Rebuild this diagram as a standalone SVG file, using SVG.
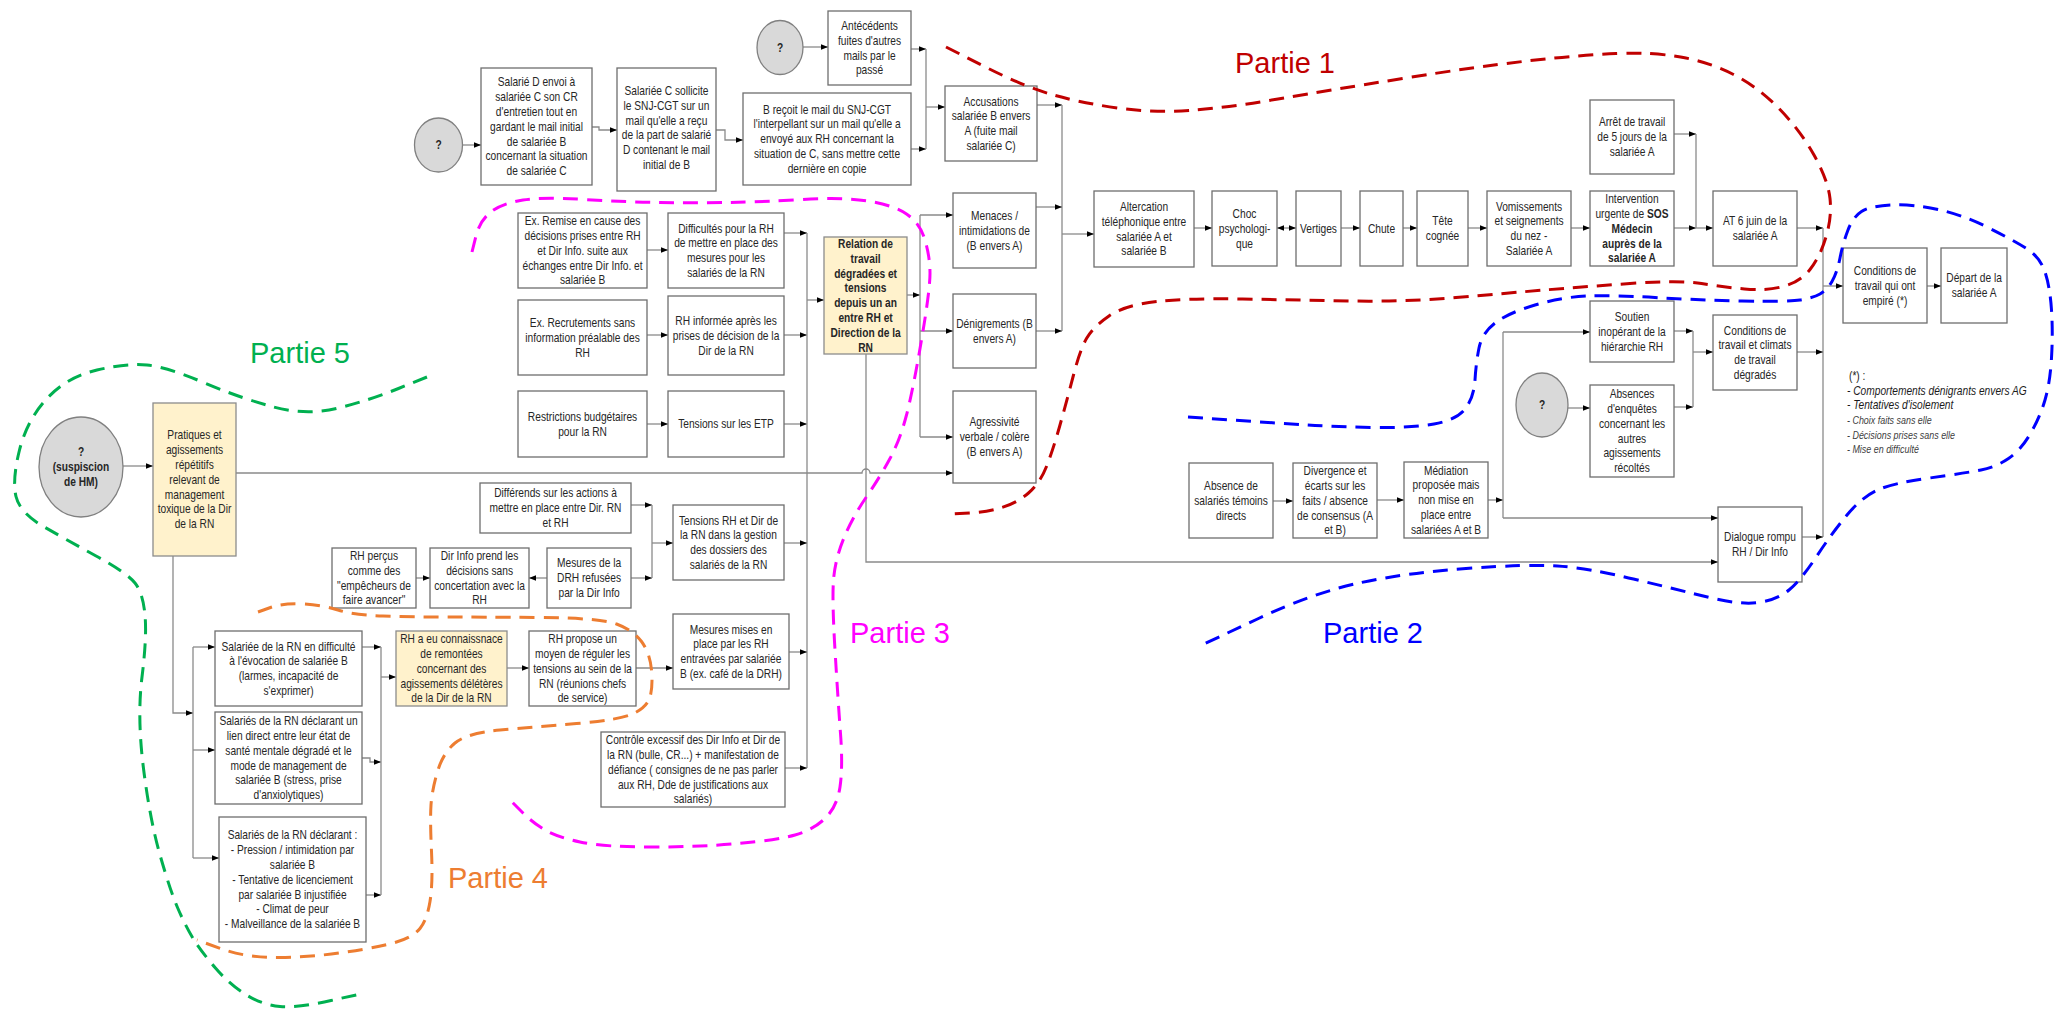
<svg xmlns="http://www.w3.org/2000/svg" width="2056" height="1017" viewBox="0 0 2056 1017">
<style>
.box{fill:#fff;stroke:#6e6e6e;stroke-width:1.3}
.hl{fill:#fff2cc;stroke:#8c8c8c;stroke-width:1.3}
.circ{fill:#d9d9d9;stroke:#808080;stroke-width:1.3}
.t{font-family:"Liberation Sans",Arial,sans-serif;font-size:12px;fill:#262626;text-anchor:middle;transform-box:fill-box;transform-origin:center;transform:scaleX(0.85)}
.b{font-weight:bold}
.c{fill:none;stroke:#8a8a8a;stroke-width:1.3}
.a{marker-end:url(#ah)}
.zone{fill:none;stroke-width:3;stroke-dasharray:15 9}
.lbl{font-family:"Liberation Sans",Arial,sans-serif;font-size:29px}
.lg{font-family:"Liberation Sans",Arial,sans-serif;font-size:12px;fill:#1a1a1a;transform-box:fill-box;transform-origin:left center;transform:scaleX(0.85)}
.lgs{font-size:10.5px;fill:#404040}
</style>
<defs>
<marker id="ah" viewBox="0 0 8 8" refX="8" refY="4" markerWidth="7" markerHeight="7" markerUnits="userSpaceOnUse" orient="auto-start-reverse"><path d="M0,0.8 L8,4 L0,7.2 z" fill="#000"/></marker>
</defs>
<rect width="2056" height="1017" fill="#fff"/>

<g id="connectors">
<path class="c a" d="M462,145 H481"/>
<path class="c a" d="M592,127 H599 V130 H617"/>
<path class="c a" d="M716,130 H725 V140 H743"/>
<path class="c a" d="M803,47 H828"/>
<path class="c a" d="M911,49 H926"/>
<path class="c a" d="M911,149 H926"/>
<path class="c" d="M926,49 V149"/>
<path class="c a" d="M926,107 H945"/>
<path class="c a" d="M1037,105 H1062"/>
<path class="c" d="M1062,105 V331"/>
<path class="c a" d="M1036,207 H1062"/>
<path class="c a" d="M1036,331 H1062"/>
<path class="c a" d="M1062,234 H1094"/>
<path class="c a" d="M1194,228 H1212"/>
<path class="c a" d="M1277,228 H1296" marker-start="url(#ah)"/>
<path class="c a" d="M1341,228 H1360"/>
<path class="c a" d="M1403,228 H1417"/>
<path class="c a" d="M1468,228 H1487"/>
<path class="c a" d="M1571,228 H1590"/>
<path class="c a" d="M1674,228 H1696"/>
<path class="c a" d="M1674,134 H1696"/>
<path class="c" d="M1696,134 V228"/>
<path class="c a" d="M1696,228 H1713"/>
<path class="c a" d="M1797,228 H1823"/>
<path class="c" d="M1823,228 V537"/>
<path class="c a" d="M1823,286 H1843"/>
<path class="c a" d="M1927,286 H1941"/>
<path class="c a" d="M1273,501 H1293"/>
<path class="c a" d="M1377,500 H1404"/>
<path class="c a" d="M1488,500 H1503"/>
<path class="c" d="M1503,332 V518"/>
<path class="c a" d="M1503,332 H1590"/>
<path class="c a" d="M1503,518 H1718"/>
<path class="c a" d="M1568,408 H1590"/>
<path class="c a" d="M1674,331 H1693"/>
<path class="c a" d="M1674,407 H1693"/>
<path class="c" d="M1693,331 V407"/>
<path class="c a" d="M1693,352 H1713"/>
<path class="c a" d="M1797,352 H1823"/>
<path class="c a" d="M1802,537 H1823"/>
<path class="c a" d="M907,295 H920"/>
<path class="c" d="M920,215 V437"/>
<path class="c a" d="M920,215 H953"/>
<path class="c a" d="M920,331 H953"/>
<path class="c a" d="M920,437 H953"/>
<path class="c a" d="M866,354 V562 H1718"/>
<path class="c a" d="M236,473 H862 A4,4 0 0 1 870,473 H953"/>
<path class="c a" d="M647,250 H668"/>
<path class="c a" d="M647,335 H668"/>
<path class="c a" d="M647,424 H668"/>
<path class="c a" d="M784,233 H807"/>
<path class="c a" d="M784,335 H807"/>
<path class="c a" d="M784,424 H807"/>
<path class="c" d="M807,233 V768"/>
<path class="c a" d="M807,300 H824"/>
<path class="c a" d="M784,543 H807"/>
<path class="c a" d="M789,652 H807"/>
<path class="c a" d="M785,768 H807"/>
<path class="c a" d="M631,505 H652"/>
<path class="c a" d="M631,578 H652"/>
<path class="c" d="M652,505 V578"/>
<path class="c a" d="M652,543 H673"/>
<path class="c a" d="M547,578 H529"/>
<path class="c a" d="M416,578 H430"/>
<path class="c a" d="M507,668 H529"/>
<path class="c a" d="M636,668 H673"/>
<path class="c a" d="M362,647 H381"/>
<path class="c a" d="M362,758 H370 V762 H381"/>
<path class="c a" d="M366,895 H381"/>
<path class="c" d="M381,647 V895"/>
<path class="c a" d="M381,677 H396"/>
<path class="c a" d="M123,466 H153"/>
<path class="c a" d="M173,556 V713 H193"/>
<path class="c" d="M193,647 V858"/>
<path class="c a" d="M193,647 H215"/>
<path class="c a" d="M193,750 H215"/>
<path class="c a" d="M193,858 H219"/>
</g>

<g id="n-q1"><ellipse class="circ" cx="438.5" cy="145" rx="24" ry="27"/><text class="t b" x="438.5" y="149.3">?</text></g>
<g id="n-salarieD"><rect class="box" x="481" y="68" width="111" height="117"/><text class="t" x="536.5" y="86.4">Salarié D envoi à<tspan x="536.5" dy="14.8">salariée C son CR</tspan><tspan x="536.5" dy="14.8">d'entretien tout en</tspan><tspan x="536.5" dy="14.8">gardant le mail initial</tspan><tspan x="536.5" dy="14.8">de salariée B</tspan><tspan x="536.5" dy="14.8">concernant la situation</tspan><tspan x="536.5" dy="14.8">de salariée C</tspan></text></g>
<g id="n-salarieeC"><rect class="box" x="617" y="68" width="99" height="123"/><text class="t" x="666.5" y="95">Salariée C sollicite<tspan x="666.5" dy="14.8">le SNJ-CGT sur un</tspan><tspan x="666.5" dy="14.8">mail qu'elle a reçu</tspan><tspan x="666.5" dy="14.8">de la part de salarié</tspan><tspan x="666.5" dy="14.8">D contenant le mail</tspan><tspan x="666.5" dy="14.8">initial de B</tspan></text></g>
<g id="n-breçoit"><rect class="box" x="743" y="93" width="168" height="92"/><text class="t" x="827" y="113.7">B reçoit le mail du SNJ-CGT<tspan x="827" dy="14.8">l'interpellant sur un mail qu'elle a</tspan><tspan x="827" dy="14.8">envoyé aux RH concernant la</tspan><tspan x="827" dy="14.8">situation de C, sans mettre cette</tspan><tspan x="827" dy="14.8">dernière en copie</tspan></text></g>
<g id="n-q2"><ellipse class="circ" cx="780" cy="47.5" rx="23" ry="27"/><text class="t b" x="780" y="51.8">?</text></g>
<g id="n-antecedents"><rect class="box" x="828" y="11" width="83" height="74"/><text class="t" x="869.5" y="30.1">Antécédents<tspan x="869.5" dy="14.8">fuites d'autres</tspan><tspan x="869.5" dy="14.8">mails par le</tspan><tspan x="869.5" dy="14.8">passé</tspan></text></g>
<g id="n-accusations"><rect class="box" x="945" y="86" width="92" height="75"/><text class="t" x="991" y="105.6">Accusations<tspan x="991" dy="14.8">salariée B envers</tspan><tspan x="991" dy="14.8">A (fuite mail</tspan><tspan x="991" dy="14.8">salariée C)</tspan></text></g>
<g id="n-menaces"><rect class="box" x="953" y="193" width="83" height="75"/><text class="t" x="994.5" y="220">Menaces /<tspan x="994.5" dy="14.8">intimidations de</tspan><tspan x="994.5" dy="14.8">(B envers A)</tspan></text></g>
<g id="n-denigrements"><rect class="box" x="953" y="294" width="83" height="74"/><text class="t" x="994.5" y="327.9">Dénigrements (B<tspan x="994.5" dy="14.8">envers A)</tspan></text></g>
<g id="n-agressivite"><rect class="box" x="953" y="391" width="83" height="92"/><text class="t" x="994.5" y="426.5">Agressivité<tspan x="994.5" dy="14.8">verbale / colère</tspan><tspan x="994.5" dy="14.8">(B envers A)</tspan></text></g>
<g id="n-altercation"><rect class="box" x="1094" y="191" width="100" height="76"/><text class="t" x="1144" y="211.1">Altercation<tspan x="1144" dy="14.8">téléphonique entre</tspan><tspan x="1144" dy="14.8">salariée A et</tspan><tspan x="1144" dy="14.8">salariée B</tspan></text></g>
<g id="n-choc"><rect class="box" x="1212" y="191" width="65" height="75"/><text class="t" x="1244.5" y="218">Choc<tspan x="1244.5" dy="14.8">psychologi-</tspan><tspan x="1244.5" dy="14.8">que</tspan></text></g>
<g id="n-vertiges"><rect class="box" x="1296" y="191" width="45" height="75"/><text class="t" x="1318.5" y="232.8">Vertiges</text></g>
<g id="n-chute"><rect class="box" x="1360" y="191" width="43" height="75"/><text class="t" x="1381.5" y="232.8">Chute</text></g>
<g id="n-tete"><rect class="box" x="1417" y="191" width="51" height="75"/><text class="t" x="1442.5" y="225.4">Tête<tspan x="1442.5" dy="14.8">cognée</tspan></text></g>
<g id="n-vomissements"><rect class="box" x="1487" y="191" width="84" height="75"/><text class="t" x="1529" y="210.6">Vomissements<tspan x="1529" dy="14.8">et seignements</tspan><tspan x="1529" dy="14.8">du nez -</tspan><tspan x="1529" dy="14.8">Salariée A</tspan></text></g>
<g id="n-intervention"><rect class="box" x="1590" y="191" width="84" height="75"/><text class="t" x="1632" y="203.2">Intervention<tspan x="1632" dy="14.8">urgente de <tspan class="b">SOS</tspan></tspan><tspan class="b" x="1632" dy="14.8">Médecin</tspan><tspan class="b" x="1632" dy="14.8">auprès de la</tspan><tspan class="b" x="1632" dy="14.8">salariée A</tspan></text></g>
<g id="n-arret"><rect class="box" x="1590" y="100" width="84" height="74"/><text class="t" x="1632" y="126.5">Arrêt de travail<tspan x="1632" dy="14.8">de 5 jours de la</tspan><tspan x="1632" dy="14.8">salariée A</tspan></text></g>
<g id="n-at"><rect class="box" x="1713" y="191" width="84" height="75"/><text class="t" x="1755" y="225.4">AT 6 juin de la<tspan x="1755" dy="14.8">salariée A</tspan></text></g>
<g id="n-conditions-empire"><rect class="box" x="1843" y="248" width="84" height="75"/><text class="t" x="1885" y="275">Conditions de<tspan x="1885" dy="14.8">travail qui ont</tspan><tspan x="1885" dy="14.8">empiré (*)</tspan></text></g>
<g id="n-depart"><rect class="box" x="1941" y="248" width="66" height="75"/><text class="t" x="1974" y="282.4">Départ de la<tspan x="1974" dy="14.8">salariée A</tspan></text></g>
<g id="n-soutien"><rect class="box" x="1590" y="301" width="84" height="61"/><text class="t" x="1632" y="321">Soutien<tspan x="1632" dy="14.8">inopérant de la</tspan><tspan x="1632" dy="14.8">hiérarchie RH</tspan></text></g>
<g id="n-q3"><ellipse class="circ" cx="1542" cy="405" rx="26" ry="32"/><text class="t b" x="1542" y="409.3">?</text></g>
<g id="n-absences-enquetes"><rect class="box" x="1590" y="385" width="84" height="92"/><text class="t" x="1632" y="398.3">Absences<tspan x="1632" dy="14.8">d'enquêtes</tspan><tspan x="1632" dy="14.8">concernant les</tspan><tspan x="1632" dy="14.8">autres</tspan><tspan x="1632" dy="14.8">agissements</tspan><tspan x="1632" dy="14.8">récoltés</tspan></text></g>
<g id="n-conditions-climats"><rect class="box" x="1713" y="315" width="84" height="75"/><text class="t" x="1755" y="334.6">Conditions de<tspan x="1755" dy="14.8">travail et climats</tspan><tspan x="1755" dy="14.8">de travail</tspan><tspan x="1755" dy="14.8">dégradés</tspan></text></g>
<g id="n-absence-temoins"><rect class="box" x="1189" y="463" width="84" height="75"/><text class="t" x="1231" y="490">Absence de<tspan x="1231" dy="14.8">salariés témoins</tspan><tspan x="1231" dy="14.8">directs</tspan></text></g>
<g id="n-divergence"><rect class="box" x="1293" y="463" width="84" height="75"/><text class="t" x="1335" y="475.2">Divergence et<tspan x="1335" dy="14.8">écarts sur les</tspan><tspan x="1335" dy="14.8">faits / absence</tspan><tspan x="1335" dy="14.8">de consensus (A</tspan><tspan x="1335" dy="14.8">et B)</tspan></text></g>
<g id="n-mediation"><rect class="box" x="1404" y="462" width="84" height="76"/><text class="t" x="1446" y="474.7">Médiation<tspan x="1446" dy="14.8">proposée mais</tspan><tspan x="1446" dy="14.8">non mise en</tspan><tspan x="1446" dy="14.8">place entre</tspan><tspan x="1446" dy="14.8">salariées A et B</tspan></text></g>
<g id="n-dialogue"><rect class="box" x="1718" y="507" width="84" height="75"/><text class="t" x="1760" y="541.4">Dialogue rompu<tspan x="1760" dy="14.8">RH / Dir Info</tspan></text></g>
<g id="n-relation"><rect class="hl" x="824" y="237" width="83" height="117"/><text class="t b" x="865.5" y="248">Relation de<tspan x="865.5" dy="14.8">travail</tspan><tspan x="865.5" dy="14.8">dégradées et</tspan><tspan x="865.5" dy="14.8">tensions</tspan><tspan x="865.5" dy="14.8">depuis un an</tspan><tspan x="865.5" dy="14.8">entre RH et</tspan><tspan x="865.5" dy="14.8">Direction de la</tspan><tspan x="865.5" dy="14.8">RN</tspan></text></g>
<g id="n-ex-remise"><rect class="box" x="518" y="213" width="129" height="75"/><text class="t" x="582.5" y="225.2">Ex. Remise en cause des<tspan x="582.5" dy="14.8">décisions prises entre RH</tspan><tspan x="582.5" dy="14.8">et Dir Info. suite aux</tspan><tspan x="582.5" dy="14.8">échanges entre Dir Info. et</tspan><tspan x="582.5" dy="14.8">salariée B</tspan></text></g>
<g id="n-difficultes"><rect class="box" x="668" y="213" width="116" height="75"/><text class="t" x="726" y="232.6">Difficultés pour la RH<tspan x="726" dy="14.8">de mettre en place des</tspan><tspan x="726" dy="14.8">mesures pour les</tspan><tspan x="726" dy="14.8">salariés de la RN</tspan></text></g>
<g id="n-ex-recrutements"><rect class="box" x="518" y="300" width="129" height="75"/><text class="t" x="582.5" y="327">Ex. Recrutements sans<tspan x="582.5" dy="14.8">information préalable des</tspan><tspan x="582.5" dy="14.8">RH</tspan></text></g>
<g id="n-rh-informee"><rect class="box" x="668" y="296" width="116" height="79"/><text class="t" x="726" y="325">RH informée après les<tspan x="726" dy="14.8">prises de décision de la</tspan><tspan x="726" dy="14.8">Dir de la RN</tspan></text></g>
<g id="n-restrictions"><rect class="box" x="518" y="391" width="129" height="66"/><text class="t" x="582.5" y="420.9">Restrictions budgétaires<tspan x="582.5" dy="14.8">pour la RN</tspan></text></g>
<g id="n-tensions-etp"><rect class="box" x="668" y="391" width="116" height="66"/><text class="t" x="726" y="428.3">Tensions sur les ETP</text></g>
<g id="n-q-hm"><ellipse class="circ" cx="81" cy="467" rx="42" ry="50"/><text class="t b" x="81" y="456.5">?<tspan x="81" dy="14.8">(suspiscion</tspan><tspan x="81" dy="14.8">de HM)</tspan></text></g>
<g id="n-pratiques"><rect class="hl" x="153" y="403" width="83" height="153"/><text class="t" x="194.5" y="439.4">Pratiques et<tspan x="194.5" dy="14.8">agissements</tspan><tspan x="194.5" dy="14.8">répétitifs</tspan><tspan x="194.5" dy="14.8">relevant de</tspan><tspan x="194.5" dy="14.8">management</tspan><tspan x="194.5" dy="14.8">toxique de la Dir</tspan><tspan x="194.5" dy="14.8">de la RN</tspan></text></g>
<g id="n-differends"><rect class="box" x="480" y="483" width="151" height="50"/><text class="t" x="555.5" y="497.5">Différends sur les actions à<tspan x="555.5" dy="14.8">mettre en place entre Dir. RN</tspan><tspan x="555.5" dy="14.8">et RH</tspan></text></g>
<g id="n-tensions-rh"><rect class="box" x="673" y="505" width="111" height="75"/><text class="t" x="728.5" y="524.6">Tensions RH et Dir de<tspan x="728.5" dy="14.8">la RN dans la gestion</tspan><tspan x="728.5" dy="14.8">des dossiers des</tspan><tspan x="728.5" dy="14.8">salariés de la RN</tspan></text></g>
<g id="n-rh-percus"><rect class="box" x="332" y="548" width="84" height="60"/><text class="t" x="374" y="560.1">RH perçus<tspan x="374" dy="14.8">comme des</tspan><tspan x="374" dy="14.8">"empêcheurs de</tspan><tspan x="374" dy="14.8">faire avancer"</tspan></text></g>
<g id="n-dir-info"><rect class="box" x="430" y="548" width="99" height="60"/><text class="t" x="479.5" y="560.1">Dir Info prend les<tspan x="479.5" dy="14.8">décisions sans</tspan><tspan x="479.5" dy="14.8">concertation avec la</tspan><tspan x="479.5" dy="14.8">RH</tspan></text></g>
<g id="n-mesures-drh"><rect class="box" x="547" y="548" width="84" height="60"/><text class="t" x="589" y="567.5">Mesures de la<tspan x="589" dy="14.8">DRH refusées</tspan><tspan x="589" dy="14.8">par la Dir Info</tspan></text></g>
<g id="n-rh-connaissance"><rect class="hl" x="396" y="631" width="111" height="75"/><text class="t" x="451.5" y="643.2">RH a eu connaissnace<tspan x="451.5" dy="14.8">de remontées</tspan><tspan x="451.5" dy="14.8">concernant des</tspan><tspan x="451.5" dy="14.8">agissements délétères</tspan><tspan x="451.5" dy="14.8">de la Dir de la RN</tspan></text></g>
<g id="n-rh-propose"><rect class="box" x="529" y="631" width="107" height="75"/><text class="t" x="582.5" y="643.2">RH propose un<tspan x="582.5" dy="14.8">moyen de réguler les</tspan><tspan x="582.5" dy="14.8">tensions au sein de la</tspan><tspan x="582.5" dy="14.8">RN (réunions chefs</tspan><tspan x="582.5" dy="14.8">de service)</tspan></text></g>
<g id="n-mesures-mises"><rect class="box" x="673" y="614" width="116" height="75"/><text class="t" x="731" y="633.6">Mesures mises en<tspan x="731" dy="14.8">place par les RH</tspan><tspan x="731" dy="14.8">entravées par salariée</tspan><tspan x="731" dy="14.8">B (ex. café de la DRH)</tspan></text></g>
<g id="n-controle"><rect class="box" x="601" y="732" width="184" height="75"/><text class="t" x="693" y="744.2">Contrôle excessif des Dir Info et Dir de<tspan x="693" dy="14.8">la RN (bulle, CR...) + manifestation de</tspan><tspan x="693" dy="14.8">défiance ( consignes de ne pas parler</tspan><tspan x="693" dy="14.8">aux RH, Dde de justifications aux</tspan><tspan x="693" dy="14.8">salariés)</tspan></text></g>
<g id="n-salariee-difficulte"><rect class="box" x="215" y="631" width="147" height="75"/><text class="t" x="288.5" y="650.6">Salariée de la RN en difficulté<tspan x="288.5" dy="14.8">à l'évocation de salariée B</tspan><tspan x="288.5" dy="14.8">(larmes, incapacité de</tspan><tspan x="288.5" dy="14.8">s'exprimer)</tspan></text></g>
<g id="n-salaries-lien"><rect class="box" x="215" y="712" width="147" height="92"/><text class="t" x="288.5" y="725.3">Salariés de la RN déclarant un<tspan x="288.5" dy="14.8">lien direct entre leur état de</tspan><tspan x="288.5" dy="14.8">santé mentale dégradé et le</tspan><tspan x="288.5" dy="14.8">mode de management de</tspan><tspan x="288.5" dy="14.8">salariée B (stress, prise</tspan><tspan x="288.5" dy="14.8">d'anxiolytiques)</tspan></text></g>
<g id="n-salaries-declarant"><rect class="box" x="219" y="817" width="147" height="125"/><text class="t" x="292.5" y="839.4">Salariés de la RN déclarant :<tspan x="292.5" dy="14.8">- Pression / intimidation par</tspan><tspan x="292.5" dy="14.8">salariée B</tspan><tspan x="292.5" dy="14.8">- Tentative de licenciement</tspan><tspan x="292.5" dy="14.8">par salariée B injustifiée</tspan><tspan x="292.5" dy="14.8">- Climat de peur</tspan><tspan x="292.5" dy="14.8">- Malveillance de la salariée B</tspan></text></g>

<g id="legend">
<text class="lg" x="1849" y="380">(*) :</text>
<text class="lg" x="1847" y="395" font-style="italic">- Comportements dénigrants envers AG</text>
<text class="lg" x="1847" y="409" font-style="italic">- Tentatives d'isolement</text>
<text class="lg lgs" x="1847" y="424" font-style="italic">- Choix faits sans elle</text>
<text class="lg lgs" x="1847" y="439" font-style="italic">- Décisions prises sans elle</text>
<text class="lg lgs" x="1847" y="453" font-style="italic">- Mise en difficulté</text>
</g>

<g id="zones">
<path class="zone" stroke="#c00000" d="M946,47 L985.5,67 Q1025,87 1053.5,95 Q1082,103 1117.5,108 Q1153,113 1189,110.5 Q1225,108 1278,99 Q1331,90 1402.5,78.5 Q1474,67 1527,61 Q1580,55 1616,53.5 Q1652,52 1680.5,57 Q1709,62 1733.5,74.5 Q1758,87 1779,108.5 Q1800,130 1814,155 Q1828,180 1830,198.5 Q1832,217 1826,237 Q1820,257 1810,269.5 Q1800,282 1783,286.5 Q1766,291 1744.5,289 Q1723,287 1701.5,283.5 Q1680,280 1630,283.5 Q1580,287 1544.5,290 Q1509,293 1456,297.5 Q1403,302 1349.5,301 Q1296,300 1242.5,299 Q1189,298 1157,301.5 Q1125,305 1109,316 Q1093,327 1086.5,338.5 Q1080,350 1073.5,375 Q1067,400 1060,425 Q1053,450 1046.5,466.5 Q1040,483 1028.5,493 Q1017,503 1002,507.5 Q987,512 969.5,513 L952,514"/>
<path class="zone" stroke="#0000ff" d="M1188,417 L1232,420 Q1276,423 1307.5,425 Q1339,427 1375,427.5 Q1411,428 1434,424 Q1457,420 1465.5,408.5 Q1474,397 1475,380 Q1476,363 1479,348 Q1482,333 1495,323 Q1508,313 1535,305 Q1562,297 1587.5,296 Q1613,295 1655,297.5 Q1697,300 1742,301 Q1787,302 1800,300 Q1813,298 1820,294 Q1827,290 1832,281.5 Q1837,273 1840,258 Q1843,243 1848,230 Q1853,217 1861.5,211.5 Q1870,206 1891.5,205 Q1913,204 1938,209.5 Q1963,215 1988,227.5 Q2013,240 2026.5,248.5 Q2040,257 2045,272 Q2050,287 2051.5,310 Q2053,333 2051.5,358 Q2050,383 2045,400 Q2040,417 2030.5,433.5 Q2021,450 2008.5,458.5 Q1996,467 1981,470 Q1966,473 1929.5,478 Q1893,483 1877.5,490 Q1862,497 1847,515 Q1832,533 1816.5,556.5 Q1801,580 1789,590 Q1777,600 1758.5,602.5 Q1740,605 1709.5,597.5 Q1679,590 1633.5,579 Q1588,568 1557.5,566 Q1527,564 1466,568.5 Q1405,573 1359,583 Q1313,593 1258.5,618.5 L1204,644"/>
<path class="zone" stroke="#ff00ff" d="M472,252 L476,236 Q480,220 491.5,211.5 Q503,203 523,200 Q543,197 585,199.5 Q627,202 660,202.5 Q693,203 726.5,202.5 Q760,202 801.5,199.5 Q843,197 868,201 Q893,205 906.5,214 Q920,223 925,240 Q930,257 930,273.5 Q930,290 921.5,340 Q913,390 906.5,415 Q900,440 890,458.5 Q880,477 866,497.5 Q852,518 843.5,539 Q835,560 833.5,580 Q832,600 835,650 Q838,700 840.5,733.5 Q843,767 840,787 Q837,807 825,818.5 Q813,830 795,835 Q777,840 738.5,843.5 Q700,847 651.5,847 Q603,847 580,842 Q557,837 545,830 Q533,823 522.5,812.5 L512,802"/>
<path class="zone" stroke="#ed7d31" d="M258,612 L270.5,607.5 Q283,603 303,604 Q323,605 338,610 Q353,615 383,616 Q413,617 446.5,617 Q480,617 540,617.5 Q600,618 616.5,624 Q633,630 641.5,641.5 Q650,653 651.5,670 Q653,687 650,697 Q647,707 633.5,713.5 Q620,720 576.5,723.5 Q533,727 500,730 Q467,733 455,743 Q443,753 437.5,771.5 Q432,790 431,805 Q430,820 431.5,851.5 Q433,883 430,901.5 Q427,920 420,928.5 Q413,937 396.5,942 Q380,947 346.5,952 Q313,957 280,957.5 Q247,958 222,949 L197,940"/>
<path class="zone" stroke="#00b050" d="M427,377 L398.5,388.5 Q370,400 338.5,408 Q307,416 273.5,407 Q240,398 203.5,382.5 Q167,367 147,365 Q127,363 97,370 Q67,377 47,398.5 Q27,420 19.5,450 Q12,480 16,496.5 Q20,513 43.5,526.5 Q67,540 97,556.5 Q127,573 135,583 Q143,593 145,615 Q147,637 142,677 Q137,717 143.5,768.5 Q150,820 160,855 Q170,890 177.5,907.5 Q185,925 192.5,937.5 Q200,950 215,967.5 Q230,985 246.5,995 Q263,1005 280,1006.5 Q297,1008 331,1000.5 L365,993"/>
<text class="lbl" x="1235" y="73" fill="#c00000">Partie 1</text>
<text class="lbl" x="1323" y="643" fill="#0000ff">Partie 2</text>
<text class="lbl" x="850" y="643" fill="#ff00ff">Partie 3</text>
<text class="lbl" x="448" y="888" fill="#ed7d31">Partie 4</text>
<text class="lbl" x="250" y="363" fill="#00b050">Partie 5</text>
</g>
</svg>
